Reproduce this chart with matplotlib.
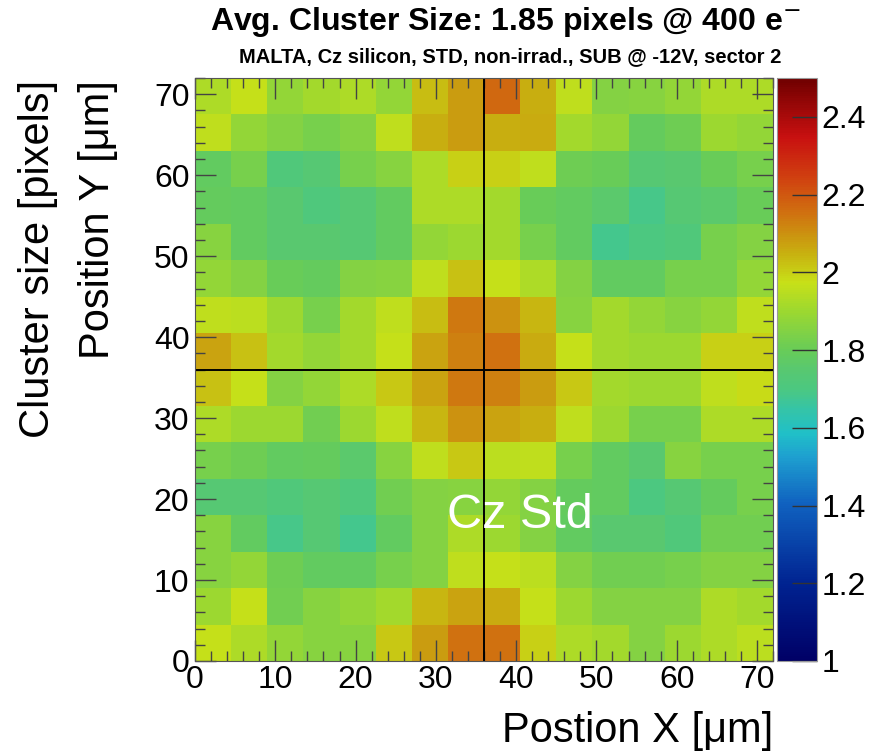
import numpy as np
import matplotlib
matplotlib.use('Agg')
import matplotlib.pyplot as plt
from matplotlib.colors import LinearSegmentedColormap
from matplotlib.ticker import MultipleLocator

plt.rcParams['font.family'] = ['Liberation Sans', 'DejaVu Sans']

# bin edges (um) and average cluster size per bin, rows from y=0 upwards
x_edges = np.linspace(0, 72, 17)
y_edges = np.linspace(0, 72, 17)
cluster_size = [
    [1.97, 1.93, 1.88, 1.86, 1.86, 2.01, 2.08, 2.15, 2.15, 2.00, 1.93, 1.91, 1.85, 1.90, 1.93, 1.95],
    [1.90, 1.97, 1.82, 1.86, 1.88, 1.91, 2.04, 2.07, 2.06, 1.97, 1.90, 1.85, 1.85, 1.85, 1.93, 1.91],
    [1.86, 1.88, 1.81, 1.78, 1.78, 1.83, 1.85, 1.96, 1.97, 1.95, 1.85, 1.82, 1.82, 1.83, 1.85, 1.85],
    [1.86, 1.78, 1.69, 1.74, 1.68, 1.78, 1.85, 1.93, 1.90, 1.85, 1.78, 1.75, 1.75, 1.72, 1.82, 1.82],
    [1.74, 1.74, 1.72, 1.74, 1.71, 1.82, 1.85, 1.86, 1.88, 1.85, 1.79, 1.78, 1.70, 1.74, 1.79, 1.83],
    [1.83, 1.81, 1.78, 1.79, 1.76, 1.86, 1.96, 2.01, 1.95, 1.96, 1.83, 1.78, 1.75, 1.86, 1.83, 1.83],
    [1.93, 1.90, 1.90, 1.82, 1.90, 1.96, 2.04, 2.10, 2.07, 2.05, 1.96, 1.90, 1.83, 1.83, 1.93, 1.93],
    [2.02, 1.97, 1.85, 1.88, 1.93, 2.01, 2.07, 2.14, 2.13, 2.08, 2.01, 1.91, 1.90, 1.90, 1.96, 1.98],
    [2.07, 2.02, 1.91, 1.88, 1.91, 1.97, 2.07, 2.13, 2.15, 2.06, 1.97, 1.91, 1.90, 1.90, 2.00, 2.00],
    [1.96, 1.95, 1.90, 1.83, 1.91, 1.96, 2.03, 2.14, 2.10, 2.04, 1.86, 1.91, 1.88, 1.86, 1.88, 1.96],
    [1.88, 1.85, 1.80, 1.79, 1.85, 1.86, 1.96, 2.02, 1.97, 1.93, 1.85, 1.78, 1.78, 1.83, 1.83, 1.88],
    [1.86, 1.78, 1.75, 1.75, 1.74, 1.78, 1.88, 1.90, 1.91, 1.83, 1.78, 1.68, 1.70, 1.72, 1.83, 1.85],
    [1.79, 1.78, 1.75, 1.71, 1.74, 1.78, 1.93, 1.93, 1.91, 1.80, 1.78, 1.76, 1.69, 1.74, 1.76, 1.80],
    [1.78, 1.83, 1.72, 1.74, 1.83, 1.86, 1.93, 2.00, 2.00, 1.96, 1.81, 1.80, 1.74, 1.75, 1.80, 1.83],
    [1.96, 1.88, 1.85, 1.83, 1.85, 1.96, 2.05, 2.08, 2.05, 2.06, 1.91, 1.88, 1.79, 1.81, 1.90, 1.88],
    [1.93, 1.97, 1.88, 1.91, 1.93, 1.88, 2.03, 2.08, 2.17, 2.05, 1.96, 1.85, 1.86, 1.88, 1.93, 1.93],
]
z = np.array(cluster_size)

# ROOT-like rainbow palette
stops = [(0.00, '#000066'), (0.13, '#002290'), (0.27, '#1062c0'), (0.35, '#1ea0d0'),
         (0.39, '#20c0c8'), (0.43, '#34c4a8'), (0.467, '#4cc880'), (0.50, '#58c870'),
         (0.533, '#68cc58'), (0.60, '#9cd830'),
         (0.65, '#c8e018'), (0.70, '#c8b010'), (0.77, '#d07010'), (0.83, '#d04010'),
         (0.90, '#c81010'), (1.00, '#700000')]
cmap = LinearSegmentedColormap.from_list('rootrainbow', stops)

fig = plt.figure(figsize=(8.72, 7.52), dpi=100)
ax = fig.add_axes([195/872, 1-661/752, 578/872, 583/752])
mesh = ax.pcolormesh(x_edges, y_edges, z, cmap=cmap, vmin=1.0, vmax=2.5)

ax.axvline(36, color='black', lw=1.4)
ax.axhline(36, color='black', lw=1.4)
ax.text(40.5, 18, 'Cz Std', color='white', fontsize=35, ha='center', va='center')

ax.set_xlim(0, 72)
ax.set_ylim(0, 72)
ax.xaxis.set_major_locator(MultipleLocator(10))
ax.xaxis.set_minor_locator(MultipleLocator(2))
ax.yaxis.set_major_locator(MultipleLocator(10))
ax.yaxis.set_minor_locator(MultipleLocator(2))
ax.tick_params(which='both', direction='in', top=True, right=True, labelsize=23, color='#444444')
ax.tick_params(which='major', length=15, width=1)
ax.tick_params(which='minor', length=7, width=1)
ax.tick_params(axis='x', pad=3)
ax.tick_params(axis='y', pad=4)
for s in ax.spines.values():
    s.set_color('#555555')

fig.text(773/872, 1-731/752, 'Postion X [\u03bcm]', fontsize=30, ha='right', va='center')
fig.text(38/872, 1-80/752, 'Cluster size [pixels]', fontsize=30, rotation=90, ha='center', va='top')
fig.text(98/872, 1-80/752, 'Position Y [\u03bcm]', fontsize=30, rotation=90, ha='center', va='top')

fig.text(505/872, 1-22/752, 'Avg. Cluster Size: 1.85 pixels @ 400 e$^{-}$', fontsize=23,
         fontweight='bold', ha='center', va='center')
fig.text(510/872, 1-57/752, 'MALTA, Cz silicon, STD, non-irrad., SUB @ -12V, sector 2', fontsize=14.5,
         fontweight='bold', ha='center', va='center')

cax = fig.add_axes([777/872, 1-661/752, 40/872, 583/752])
cb = fig.colorbar(mesh, cax=cax, ticks=[1.0, 1.2, 1.4, 1.6, 1.8, 2.0, 2.2, 2.4])
cb.ax.set_yticklabels(['1', '1.2', '1.4', '1.6', '1.8', '2', '2.2', '2.4'])
cb.ax.tick_params(direction='in', length=18, width=1, labelsize=23, color='#333333', pad=3)
cb.outline.set_edgecolor('#999999')

fig.savefig('out.png', dpi=100)
